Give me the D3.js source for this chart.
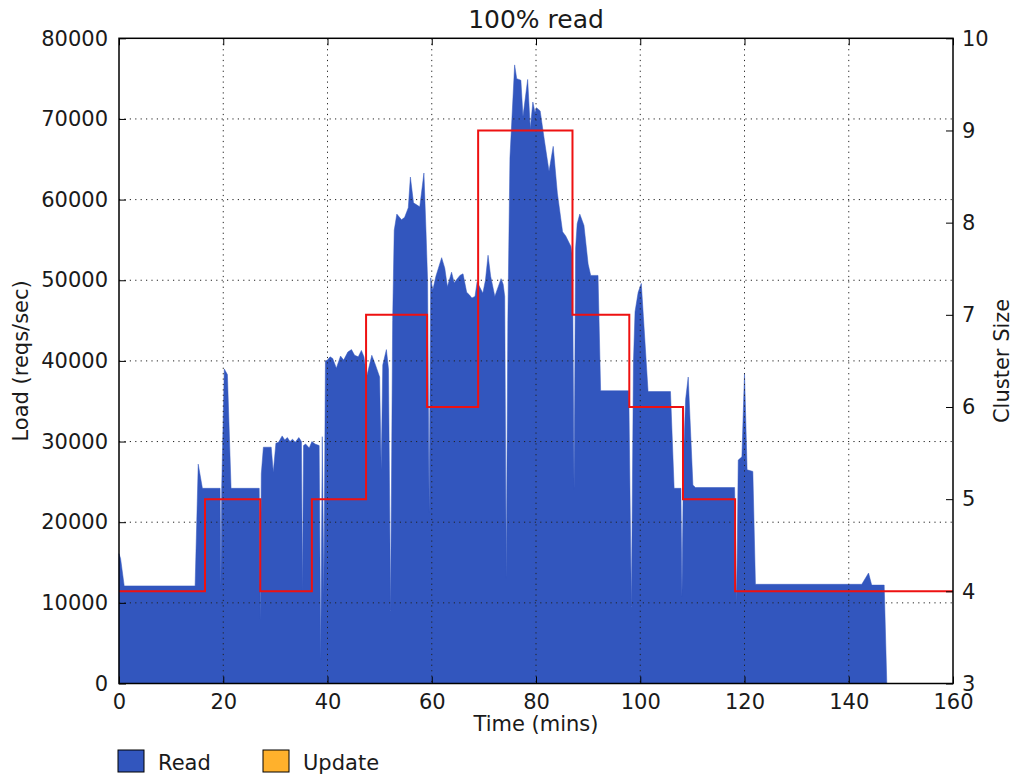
<!DOCTYPE html>
<html>
<head>
<meta charset="utf-8">
<script src="https://cdn.jsdelivr.net/npm/d3@7"></script>
<style>
  body { margin: 0; background: #fff; }
  svg text { font-family: "DejaVu Sans", sans-serif; fill: #1a1a1a; }
</style>
</head>
<body>
<svg id="chart" width="1017" height="778"></svg>
<script>
// ---- data ----
const timeMins = [0,0.3,1.0,14.6,15.2,16.0,19.4,19.55,19.7,20.2,20.8,21.5,26.9,27.1,27.3,27.7,29.2,29.6,30.1,30.6,31.3,31.8,32.3,32.8,33.3,33.8,34.5,35.0,35.2,35.4,35.8,36.5,37.0,37.6,38.4,38.7,39.0,39.3,39.6,40.0,40.5,41.0,41.7,42.5,43.1,43.9,44.6,45.2,45.9,46.5,47.0,47.5,48.5,49.2,50.0,50.3,50.6,51.3,51.7,52.1,52.5,52.8,53.3,54.2,54.8,55.5,55.9,56.5,57.7,58.5,58.9,59.2,59.5,59.8,60.2,60.8,61.9,62.5,63.0,63.8,64.3,65.4,66.0,66.7,67.2,67.7,68.3,68.7,69.8,70.3,70.8,71.3,72.1,73.3,73.7,74.0,74.3,74.6,75.0,75.9,76.3,76.7,77.1,77.5,78.4,78.9,79.4,79.8,80.1,80.8,81.6,82.5,83.3,84.1,85.1,85.7,86.7,87.0,87.3,87.6,87.9,88.4,89.2,90.0,90.5,91.9,92.4,97.8,98.3,98.7,99.0,99.6,100.2,100.6,101.5,105.8,106.5,107.8,108.0,108.3,108.7,109.2,109.7,110.1,110.6,118.1,118.5,118.8,119.5,120.0,120.5,121.6,122.1,142.5,143.8,144.4,146.8,147.3,160];
const readLoad = [16100,15500,12100,12100,27200,24200,24200,12000,24200,39000,38300,24200,24200,8000,26000,29300,29300,26200,29800,29900,30700,30200,30500,30000,30300,29900,30500,30000,11600,29500,29700,29200,30000,29700,29500,3000,30600,11000,40000,40100,40500,40300,39100,40600,40100,41100,41400,40700,40500,41300,40500,38000,40700,39500,38000,26500,39500,41400,39000,9000,45000,56200,58200,57500,57800,59000,62800,59600,59100,63300,56000,50000,21200,50300,48800,50500,52800,51500,49200,51000,49700,50600,50800,48500,48200,47800,48000,49800,48400,50000,53100,50500,48000,50200,49500,48000,13000,45000,65200,76700,75000,74900,74800,70300,74900,68800,72100,70800,71400,71000,67400,63500,66600,60800,56000,55500,54200,53000,24100,54000,57000,58200,56800,52000,50600,50600,36300,36300,9500,40000,46100,48500,49600,45500,36200,36200,24200,24200,10800,28000,35200,38000,30600,24600,24300,24300,10000,27700,28100,38500,26500,26300,12300,12300,13700,12200,12200,0,0];

const clusterTimes = [0,16.5,27.1,37.0,47.4,59.1,68.9,87.0,97.9,108.2,118.2,160];
const clusterSizes = [4,5,4,5,7,6,9,7,6,5,4,4];

const xTicks = [0,20,40,60,80,100,120,140,160];
const loadTicks = [0,10000,20000,30000,40000,50000,60000,70000,80000];
const sizeTicks = [3,4,5,6,7,8,9,10];

const titleText = "100% read";
const legendItems = [{name: "Read", color: "#3256be"}, {name: "Update", color: "#ffb12c"}];

// ---- layout ----
const svg = d3.select("#chart");
const L = 119, R = 953, T = 38.3, B = 683.5;
const x = d3.scaleLinear().domain([0,160]).range([L,R]);
const y = d3.scaleLinear().domain([0,80000]).range([B,T]);
const y2 = d3.scaleLinear().domain([3,10]).range([B,T]);

const readPts = timeMins.map((t,i)=>({t, v: readLoad[i]}));
const clusterPts = clusterTimes.map((t,i)=>({t, v: clusterSizes[i]}));

// area
const area = d3.area().x(d=>x(d.t)).y0(y(0)).y1(d=>y(d.v));
svg.append("path").datum(readPts).attr("d", area)
  .attr("fill", "#3256be").attr("stroke", "#3256be").attr("stroke-width", 0.5);

// grid (drawn on top of area)
const grid = svg.append("g").attr("stroke", "#222").attr("stroke-width", 1)
  .attr("stroke-dasharray", "1.2,4.2");
xTicks.slice(1,-1).forEach(t=>{
  grid.append("line").attr("x1", x(t)).attr("x2", x(t)).attr("y1", T).attr("y2", B);
});
loadTicks.slice(1,-1).forEach(v=>{
  grid.append("line").attr("x1", L).attr("x2", R).attr("y1", y(v)).attr("y2", y(v));
});

// red cluster line
const line = d3.line().x(d=>x(d.t)).y(d=>y2(d.v)).curve(d3.curveStepAfter);
svg.append("path").datum(clusterPts).attr("d", line)
  .attr("fill", "none").attr("stroke", "#ee1111").attr("stroke-width", 2);

// axes (inward ticks)
const tl = 7;
const axB = d3.axisBottom(x).tickValues(xTicks).tickSizeInner(-tl).tickSizeOuter(0).tickPadding(11).tickFormat(d3.format("d"));
const axT = d3.axisTop(x).tickValues(xTicks).tickSizeInner(-tl).tickSizeOuter(0).tickFormat("");
const axL = d3.axisLeft(y).tickValues(loadTicks).tickSizeInner(-tl).tickSizeOuter(0).tickPadding(11).tickFormat(d3.format("d"));
const axR = d3.axisRight(y2).tickValues(sizeTicks).tickSizeInner(-tl).tickSizeOuter(0).tickPadding(9).tickFormat(d3.format("d"));

function styleAxis(g){
  g.select(".domain").remove();
  g.selectAll(".tick line").attr("stroke", "#000").attr("stroke-width", 1);
  g.selectAll(".tick text").attr("font-size", 21).attr("fill", "#1a1a1a")
    .attr("font-family", "DejaVu Sans, sans-serif");
}
svg.append("g").attr("transform", `translate(0,${B})`).call(axB).call(styleAxis);
svg.append("g").attr("transform", `translate(0,${T})`).call(axT).call(styleAxis);
svg.append("g").attr("transform", `translate(${L},0)`).call(axL).call(styleAxis);
svg.append("g").attr("transform", `translate(${R},0)`).call(axR).call(styleAxis);

// frame
svg.append("rect").attr("x", L).attr("y", T).attr("width", R-L).attr("height", B-T)
  .attr("fill", "none").attr("stroke", "#000").attr("stroke-width", 1.5);

// texts
svg.append("text").attr("x", (L+R)/2).attr("y", 28).attr("text-anchor", "middle")
  .attr("font-size", 25).text(titleText);
svg.append("text").attr("x", (L+R)/2).attr("y", 731).attr("text-anchor", "middle")
  .attr("font-size", 21).text("Time (mins)");
svg.append("text").attr("transform", `translate(28,${(T+B)/2}) rotate(-90)`)
  .attr("text-anchor", "middle").attr("font-size", 21).text("Load (reqs/sec)");
svg.append("text").attr("transform", `translate(1009,${(T+B)/2}) rotate(-90)`)
  .attr("text-anchor", "middle").attr("font-size", 21).text("Cluster Size");

// legend
const lg = svg.append("g");
const lx = [118, 263];
legendItems.forEach((it,i)=>{
  lg.append("rect").attr("x", lx[i]).attr("y", 750).attr("width", 26).attr("height", 22)
    .attr("fill", it.color).attr("stroke", "#000").attr("stroke-width", 1);
  lg.append("text").attr("x", lx[i]+40).attr("y", 770).attr("font-size", 21).text(it.name);
});
</script>
</body>
</html>
